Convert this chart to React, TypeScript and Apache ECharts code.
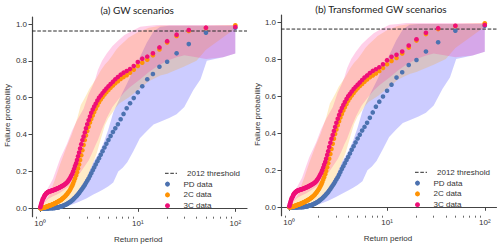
import React, { useEffect, useRef } from 'react';
import * as echarts from 'echarts';

// ---------- data ----------
const returnPeriod = [
  100, 50, 33.33, 25, 20, 16.67, 14.29, 12.5, 11.11, 10,
  9.09, 8.33, 7.69, 7.14, 6.67, 6.25, 5.88, 5.56, 5.26, 5,
  4.76, 4.55, 4.35, 4.17, 4, 3.85, 3.7, 3.57, 3.45, 3.33,
  3.23, 3.13, 3.03, 2.94, 2.86, 2.78, 2.7, 2.63, 2.56, 2.5,
  2.44, 2.38, 2.33, 2.27, 2.22, 2.17, 2.13, 2.08, 2.04, 2,
  1.96, 1.92, 1.89, 1.85, 1.82, 1.79, 1.75, 1.72, 1.69, 1.67,
  1.64, 1.61, 1.59, 1.56, 1.54, 1.52, 1.49, 1.47, 1.45, 1.43,
  1.41, 1.39, 1.37, 1.35, 1.33, 1.32, 1.3, 1.28, 1.27, 1.25,
  1.23, 1.22, 1.2, 1.19, 1.18, 1.16, 1.15, 1.14, 1.12, 1.11,
  1.1, 1.09, 1.08, 1.06, 1.05, 1.04, 1.03, 1.02, 1.01, 1,
];

const pdData = [
  0.98, 0.953, 0.891, 0.841, 0.795, 0.768, 0.729, 0.7, 0.662, 0.629,
  0.598, 0.57, 0.543, 0.512, 0.483, 0.456, 0.434, 0.414, 0.392, 0.371,
  0.35, 0.33, 0.31, 0.29, 0.272, 0.255, 0.238, 0.222, 0.206, 0.19,
  0.176, 0.162, 0.15, 0.138, 0.127, 0.117, 0.108, 0.099, 0.091, 0.083,
  0.076, 0.07, 0.064, 0.058, 0.053, 0.048, 0.044, 0.04, 0.036, 0.033,
  0.03, 0.027, 0.024, 0.022, 0.02, 0.018, 0.016, 0.014, 0.012, 0.011,
  0.01, 0.009, 0.008, 0.007, 0.006, 0.005, 0.004, 0.004, 0.003, 0.003,
  0.002, 0.002, 0.002, 0.001, 0.001, 0.001, 0.001, 0.001, 0.001, 0.001,
  0.001, 0, 0, 0, 0, 0, 0, 0, 0, 0,
  0, 0, 0, 0, 0, 0, 0, 0, 0, 0,
];

const c2Data = [
  0.993, 0.978, 0.962, 0.935, 0.9, 0.862, 0.83, 0.806, 0.79, 0.772,
  0.752, 0.735, 0.722, 0.712, 0.702, 0.69, 0.678, 0.666, 0.654, 0.642,
  0.63, 0.617, 0.604, 0.59, 0.575, 0.558, 0.54, 0.522, 0.503, 0.485,
  0.465, 0.443, 0.42, 0.395, 0.37, 0.343, 0.315, 0.288, 0.262, 0.238,
  0.216, 0.196, 0.178, 0.162, 0.148, 0.135, 0.124, 0.114, 0.105, 0.097,
  0.09, 0.084, 0.078, 0.073, 0.068, 0.064, 0.06, 0.056, 0.053, 0.05,
  0.047, 0.044, 0.042, 0.04, 0.038, 0.036, 0.034, 0.032, 0.03, 0.028,
  0.027, 0.025, 0.024, 0.022, 0.021, 0.02, 0.018, 0.017, 0.016, 0.015,
  0.014, 0.013, 0.012, 0.011, 0.01, 0.009, 0.008, 0.007, 0.006, 0.005,
  0.005, 0.004, 0.003, 0.003, 0.002, 0.002, 0.001, 0.001, 0, 0,
];

const c3Data = [
  0.984, 0.98, 0.967, 0.942, 0.907, 0.873, 0.841, 0.823, 0.812, 0.794,
  0.772, 0.756, 0.745, 0.736, 0.725, 0.712, 0.7, 0.687, 0.674, 0.662,
  0.65, 0.638, 0.625, 0.612, 0.6, 0.585, 0.568, 0.552, 0.536, 0.518,
  0.498, 0.478, 0.456, 0.434, 0.412, 0.39, 0.37, 0.348, 0.325, 0.303,
  0.282, 0.262, 0.245, 0.23, 0.214, 0.2, 0.188, 0.178, 0.169, 0.161,
  0.153, 0.147, 0.141, 0.137, 0.133, 0.13, 0.127, 0.124, 0.122, 0.12,
  0.118, 0.116, 0.114, 0.112, 0.11, 0.109, 0.107, 0.106, 0.104, 0.103,
  0.102, 0.1, 0.099, 0.098, 0.097, 0.096, 0.095, 0.094, 0.093, 0.092,
  0.091, 0.09, 0.088, 0.087, 0.085, 0.083, 0.08, 0.077, 0.074, 0.07,
  0.066, 0.061, 0.056, 0.05, 0.043, 0.036, 0.029, 0.022, 0.014, 0.006,
];

// uncertainty bands (return period, lower, upper)
const pdBandT = [1, 1.6, 2, 2.5, 3, 3.5, 4, 4.5, 5, 5.6, 6.3, 7, 7.8, 9, 10.5, 12.4, 14.5, 17, 21, 25, 30, 37, 44, 51, 75, 100];
const pdBandLo = [0, 0, 0.015, 0.035, 0.055, 0.075, 0.09, 0.105, 0.12, 0.14, 0.2, 0.22, 0.25, 0.31, 0.38, 0.42, 0.455, 0.47, 0.49, 0.51, 0.55, 0.64, 0.7, 0.8, 0.82, 0.84];
const pdBandHi = [0, 0.005, 0.045, 0.1, 0.17, 0.25, 0.3, 0.36, 0.43, 0.52, 0.58, 0.63, 0.68, 0.75, 0.82, 0.9, 0.96, 0.985, 0.99, 0.99, 0.99, 0.99, 0.99, 0.99, 0.99, 0.99];

const c2BandT = [1, 1.2, 1.4, 1.6, 1.85, 2.1, 2.4, 2.6, 2.8, 3, 3.2, 3.5, 3.8, 4.2, 4.6, 5, 5.5, 6, 6.5, 7.5, 8, 10, 13, 17, 20, 22, 30, 40, 50, 100];
const c2BandLo = [0, 0, 0, 0.005, 0.012, 0.025, 0.06, 0.09, 0.12, 0.16, 0.2, 0.25, 0.3, 0.38, 0.45, 0.49, 0.52, 0.55, 0.57, 0.59, 0.6, 0.64, 0.69, 0.72, 0.73, 0.74, 0.77, 0.8, 0.86, 0.975];
const c2BandHi = [0.005, 0.06, 0.15, 0.24, 0.33, 0.4, 0.49, 0.56, 0.59, 0.62, 0.65, 0.68, 0.71, 0.75, 0.78, 0.8, 0.83, 0.86, 0.88, 0.91, 0.925, 0.955, 0.98, 0.99, 0.99, 0.99, 0.99, 0.99, 0.99, 0.995];

const c3BandT = [1, 1.05, 1.1, 1.2, 1.35, 1.48, 1.6, 1.88, 2.11, 2.4, 2.78, 3.13, 3.4, 3.66, 3.9, 4.3, 4.8, 5.5, 6.3, 7.3, 8.4, 10.6, 13, 15.7, 20, 25, 30, 40, 50, 75, 100];
const c3BandLo = [0, 0.01, 0.03, 0.05, 0.065, 0.075, 0.085, 0.11, 0.13, 0.17, 0.22, 0.26, 0.3, 0.34, 0.37, 0.43, 0.49, 0.55, 0.59, 0.63, 0.66, 0.7, 0.74, 0.77, 0.8, 0.82, 0.83, 0.82, 0.81, 0.82, 0.84];
const c3BandHi = [0.01, 0.05, 0.08, 0.11, 0.16, 0.22, 0.27, 0.35, 0.42, 0.48, 0.54, 0.62, 0.66, 0.7, 0.75, 0.8, 0.84, 0.88, 0.91, 0.94, 0.958, 0.985, 0.99, 0.995, 0.995, 0.995, 0.995, 0.995, 0.995, 0.995, 0.995];

const threshold2012 = 0.962;

const xTickValues = [1, 10, 100];
const xTickLabels = ['10\u2070', '10\u00b9', '10\u00b2'];
const xMinorTickValues = [0.9, 2, 3, 4, 5, 6, 7, 8, 9, 20, 30, 40, 50, 60, 70, 80, 90];
const yTickValues = [0, 0.2, 0.4, 0.6, 0.8, 1.0];

const panelTitles = ['(a) GW scenarios', '(b) Transformed GW scenarios'];
const xAxisTitle = 'Return period';
const yAxisTitle = 'Failure probability';
const legendNames = ['2012 threshold', 'PD data', '2C data', '3C data'];

// ---------- layout / style ----------
const X_MIN = 0.822;
const X_MAX = 131.8;
const Y_MIN = -0.0455;
const Y_MAX = 1.038;

const panels = [
  { left: 32, top: 17, width: 215, height: 199.7, titleX: 137.2, titleY: 10, yLabX: 7.5, yLabY: 115.5, xLabX: 138.3, xLabY: 239, legLeft: 165, legRow0: 173.3 },
  { left: 281, top: 15, width: 215.5, height: 200.7, titleX: 381, titleY: 8.8, yLabX: 257, yLabY: 114.5, xLabX: 388, xLabY: 238, legLeft: 415, legRow0: 172.3 },
];
const LEG_ROW = 10.8;

const COLORS = {
  pd: '#4c72b0',
  c2: '#ff9305',
  c3: '#ef0f78',
  pdBand: 'rgba(0,0,255,0.2)',
  c2Band: 'rgba(255,165,0,0.22)',
  c3Band: 'rgba(255,20,147,0.2)',
  axis: '#444444',
  text: '#333333',
  threshold: '#2b2b2b',
};
const FONT = 'Liberation Sans, Arial, sans-serif';
const DASH = [3.6, 1.7];

function bandSeries(id: string, T: number[], lo: number[], hi: number[], color: string, xi: number, yi: number) {
  const rows = T.map((t, k) => [t, lo[k], hi[k]]);
  return {
    type: 'custom', name: id, xAxisIndex: xi, yAxisIndex: yi, silent: true, z: 1,
    encode: { x: 0, y: [1, 2] },
    data: rows,
    renderItem: (params: any, api: any) => {
      if (params.dataIndex !== 0) return null;
      const pts: number[][] = [];
      for (let k = 0; k < rows.length; k++) pts.push(api.coord([rows[k][0], rows[k][2]]));
      for (let k = rows.length - 1; k >= 0; k--) pts.push(api.coord([rows[k][0], rows[k][1]]));
      return { type: 'polygon', shape: { points: pts }, style: { fill: color, stroke: 'none' } };
    },
  };
}

function buildOption() {
  const grid: any[] = [];
  const xAxis: any[] = [];
  const yAxis: any[] = [];
  const series: any[] = [];
  const legend: any[] = [];
  const graphic: any[] = [];

  panels.forEach((p, gi) => {
    grid.push({ left: p.left, top: p.top, width: p.width, height: p.height, containLabel: false });
    const xi = xAxis.length;
    xAxis.push({
      gridIndex: gi, type: 'log', logBase: 10, min: X_MIN, max: X_MAX, position: 'bottom',
      axisLine: { show: true, lineStyle: { color: COLORS.axis, width: 1.2 } },
      axisTick: { show: true, customValues: xTickValues, length: 3.5, lineStyle: { color: COLORS.axis, width: 1 } },
      axisLabel: {
        show: true, customValues: xTickValues, margin: 3, color: COLORS.text, fontSize: 8, fontFamily: FONT,
        formatter: (v: number) => {
          const k = xTickValues.findIndex((t) => Math.abs(t - v) / t < 1e-6);
          return k >= 0 ? xTickLabels[k] : '';
        },
      },
      splitLine: { show: false }, minorTick: { show: false }, minorSplitLine: { show: false },
    });
    xAxis.push({
      gridIndex: gi, type: 'log', logBase: 10, min: X_MIN, max: X_MAX, position: 'bottom',
      axisLine: { show: false },
      axisTick: { show: true, customValues: xMinorTickValues, length: 2, lineStyle: { color: COLORS.axis, width: 0.8 } },
      axisLabel: { show: false },
      splitLine: { show: false },
    });
    yAxis.push({
      gridIndex: gi, type: 'value', min: Y_MIN, max: Y_MAX,
      axisLine: { show: true, lineStyle: { color: COLORS.axis, width: 1.2 } },
      axisTick: { show: true, customValues: yTickValues, length: 3.5, lineStyle: { color: COLORS.axis, width: 1 } },
      axisLabel: {
        show: true, customValues: yTickValues, margin: 5, color: COLORS.text, fontSize: 8, fontFamily: FONT,
        formatter: (v: number) => v.toFixed(1),
      },
      splitLine: { show: false },
    });

    series.push(bandSeries('pdBand' + gi, pdBandT, pdBandLo, pdBandHi, COLORS.pdBand, xi, gi));
    series.push(bandSeries('c2Band' + gi, c2BandT, c2BandLo, c2BandHi, COLORS.c2Band, xi, gi));
    series.push(bandSeries('c3Band' + gi, c3BandT, c3BandLo, c3BandHi, COLORS.c3Band, xi, gi));

    series.push({
      type: 'line', name: legendNames[0], xAxisIndex: xi, yAxisIndex: gi,
      data: [[X_MIN, threshold2012], [X_MAX, threshold2012]], symbol: 'none', showSymbol: false, silent: true,
      itemStyle: { color: COLORS.threshold },
      lineStyle: { color: COLORS.threshold, width: 1, type: DASH }, z: 2,
    });
    const scat = (name: string, vals: number[], color: string, z: number) => ({
      type: 'scatter', name, xAxisIndex: xi, yAxisIndex: gi,
      data: returnPeriod.map((t, k) => [t, vals[k]]), symbol: 'circle', symbolSize: 4.6,
      itemStyle: { color, opacity: 1 }, silent: true, z,
    });
    series.push(scat(legendNames[1], pdData, COLORS.pd, 3));
    series.push(scat(legendNames[2], c2Data, COLORS.c2, 4));
    series.push(scat(legendNames[3], c3Data, COLORS.c3, 5));

    legend.push({
      orient: 'vertical', left: p.legLeft, top: p.legRow0 + LEG_ROW - LEG_ROW / 2, padding: 0, itemGap: 0,
      itemWidth: 12, itemHeight: 5, selectedMode: false,
      data: legendNames.slice(1),
      textStyle: { fontSize: 8, fontFamily: FONT, color: COLORS.text, lineHeight: LEG_ROW, padding: [0, 0, 0, 5] },
    });
    // legend entry for the dashed threshold line
    graphic.push({
      type: 'line', silent: true,
      shape: { x1: p.legLeft, y1: p.legRow0, x2: p.legLeft + 12, y2: p.legRow0 },
      style: { stroke: COLORS.threshold, lineWidth: 1, lineDash: DASH },
    });
    graphic.push({
      type: 'text', x: p.legLeft + 22, y: p.legRow0, silent: true,
      style: { text: legendNames[0], fontSize: 8, fontFamily: FONT, fill: COLORS.text, align: 'left', verticalAlign: 'middle' },
    });

    graphic.push({
      type: 'text', x: p.titleX, y: p.titleY, silent: true,
      style: { text: panelTitles[gi], fontSize: 10, fontFamily: 'Lato, Open Sans, sans-serif', fill: '#222', align: 'center', verticalAlign: 'middle' },
    });
    graphic.push({
      type: 'text', x: p.xLabX, y: p.xLabY, silent: true,
      style: { text: xAxisTitle, fontSize: 8, fontFamily: FONT, fill: COLORS.text, align: 'center', verticalAlign: 'middle' },
    });
    graphic.push({
      type: 'text', x: p.yLabX, y: p.yLabY, rotation: Math.PI / 2, silent: true,
      style: { text: yAxisTitle, fontSize: 8, fontFamily: FONT, fill: COLORS.text, align: 'center', verticalAlign: 'middle' },
    });
  });

  return {
    animation: false,
    backgroundColor: '#ffffff',
    grid, xAxis, yAxis, series, legend, graphic,
  };
}

export default function App() {
  const ref = useRef<HTMLDivElement>(null);
  useEffect(() => {
    if (!ref.current) return;
    const chart = echarts.init(ref.current, null, { renderer: 'svg' });
    chart.setOption(buildOption() as any);
    return () => chart.dispose();
  }, []);
  return (
    <div
      ref={ref}
      style={{ position: 'absolute', left: 0, top: 0, width: 500, height: 248, background: '#fff' }}
    />
  );
}
